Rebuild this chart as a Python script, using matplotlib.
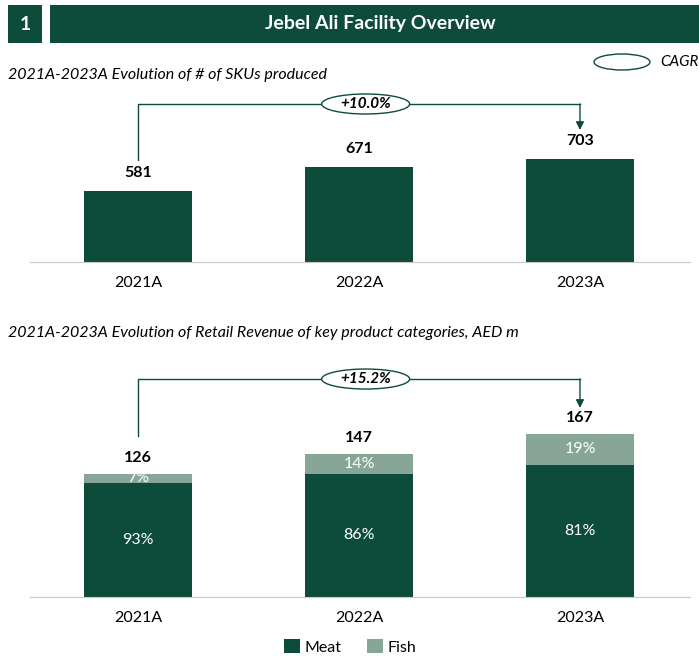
import matplotlib.pyplot as plt
from matplotlib.patches import Rectangle, Ellipse

years = ['2021A', '2022A', '2023A']
skus = [581, 671, 703]
sku_cagr = '+10.0%'
revenue = [126, 147, 167]
meat_share = [93, 86, 81]
fish_share = [7, 14, 19]
rev_cagr = '+15.2%'

DARK = '#0D4B3A'
LIGHT = '#87A698'
W, H = 699, 656

plt.rcParams['font.family'] = ['Lato', 'DejaVu Sans']

fig = plt.figure(figsize=(W / 100, H / 100), dpi=100)


def box(x0, y0, x1, y1):
    # pixel box (top-left origin) -> figure fraction rect
    return [x0 / W, 1 - y1 / H, (x1 - x0) / W, (y1 - y0) / H]


# header
fig.add_artist(Rectangle((8 / W, 1 - 43 / H), 34 / W, 38 / H, transform=fig.transFigure,
                         color=DARK, lw=0))
fig.add_artist(Rectangle((50 / W, 1 - 43 / H), 649 / W, 38 / H, transform=fig.transFigure,
                         color=DARK, lw=0))
fig.text(25 / W, 1 - 24 / H, '1', color='white', fontsize=14, fontweight='bold',
         ha='center', va='center')
fig.text(380 / W, 1 - 24 / H, 'Jebel Ali Facility Overview', color='white', fontsize=14,
         fontweight='bold', ha='center', va='center')

# CAGR legend
fig.add_artist(Ellipse((622 / W, 1 - 62 / H), 56 / W, 16 / H, transform=fig.transFigure,
                       fill=False, ec=DARK, lw=1))
fig.text(660 / W, 1 - 62 / H, 'CAGR', fontsize=11, style='italic', va='center')

fig.text(8 / W, 1 - 75 / H, '2021A-2023A Evolution of # of SKUs produced', fontsize=11.5,
         style='italic', va='center')
fig.text(8 / W, 1 - 333 / H,
         '2021A-2023A Evolution of Retail Revenue of key product categories, AED m',
         fontsize=11.5, style='italic', va='center')

x = list(range(len(years)))
xl = (-0.489, 2.498)
bw = 0.49


def style_ax(ax):
    for s in ['top', 'right', 'left']:
        ax.spines[s].set_visible(False)
    ax.spines['bottom'].set_color('#C8C8C8')
    ax.set_yticks([])
    ax.set_xticks(x)
    ax.set_xticklabels(years, fontsize=11.5)
    ax.tick_params(axis='x', length=0, pad=10)
    ax.set_xlim(*xl)


def cagr(ax, k, y_start, y_top, y_end, label):
    ax.plot([0, 0, 2], [y_start, y_top, y_top], color=DARK, lw=1)
    ax.annotate('', xy=(2, y_end), xytext=(2, y_top),
                arrowprops=dict(arrowstyle='-|>', color=DARK, lw=1, mutation_scale=12,
                                shrinkA=0, shrinkB=0))
    ax.add_patch(Ellipse((1.03, y_top), 88 / 221, 20 / k, fc='white', ec=DARK, lw=1,
                         zorder=3, clip_on=False))
    ax.text(1.03, y_top, label, fontsize=11, style='italic', fontweight='bold',
            ha='center', va='center', zorder=4)


# chart 1: SKUs
ax1 = fig.add_axes(box(30, 90, 690, 262))
k1 = 0.262
ax1.set_ylim(310, 310 + 172 / k1)
ax1.bar(x, skus, width=bw, color=DARK, bottom=0)
for i, v in enumerate(skus):
    ax1.text(i, v + 11 / k1, str(v), ha='center', va='bottom', fontsize=11.5, fontweight='bold')
style_ax(ax1)
cagr(ax1, k1, skus[0] + 31 / k1, skus[0] + 87 / k1, skus[2] + 29 / k1, sku_cagr)

# chart 2: revenue
ax2 = fig.add_axes(box(30, 360, 690, 597))
k2 = 0.976
ax2.set_ylim(0, 237 / k2)
meat = [r * m / 100 for r, m in zip(revenue, meat_share)]
fish = [r - m for r, m in zip(revenue, meat)]
ax2.bar(x, meat, width=bw, color=DARK, label='Meat')
ax2.bar(x, fish, width=bw, bottom=meat, color=LIGHT, label='Fish')
for i in x:
    ax2.text(i, meat[i] / 2, f'{meat_share[i]}%', ha='center', va='center', color='white',
             fontsize=11.5)
    ax2.text(i, meat[i] + fish[i] / 2, f'{fish_share[i]}%', ha='center', va='center',
             color='white', fontsize=11.5)
    ax2.text(i, revenue[i] + 9 / k2, str(revenue[i]), ha='center', va='bottom', fontsize=11.5,
             fontweight='bold')
style_ax(ax2)
cagr(ax2, k2, revenue[0] + 38 / k2, revenue[0] + 95 / k2, revenue[2] + 26 / k2, rev_cagr)

fig.legend(loc='center', bbox_to_anchor=(350 / W, 1 - 647 / H), ncol=2, frameon=False,
           fontsize=11.5, handlelength=1.0, handleheight=1.0, handletextpad=0.3,
           columnspacing=1.6)

fig.savefig('out.png', dpi=100)
